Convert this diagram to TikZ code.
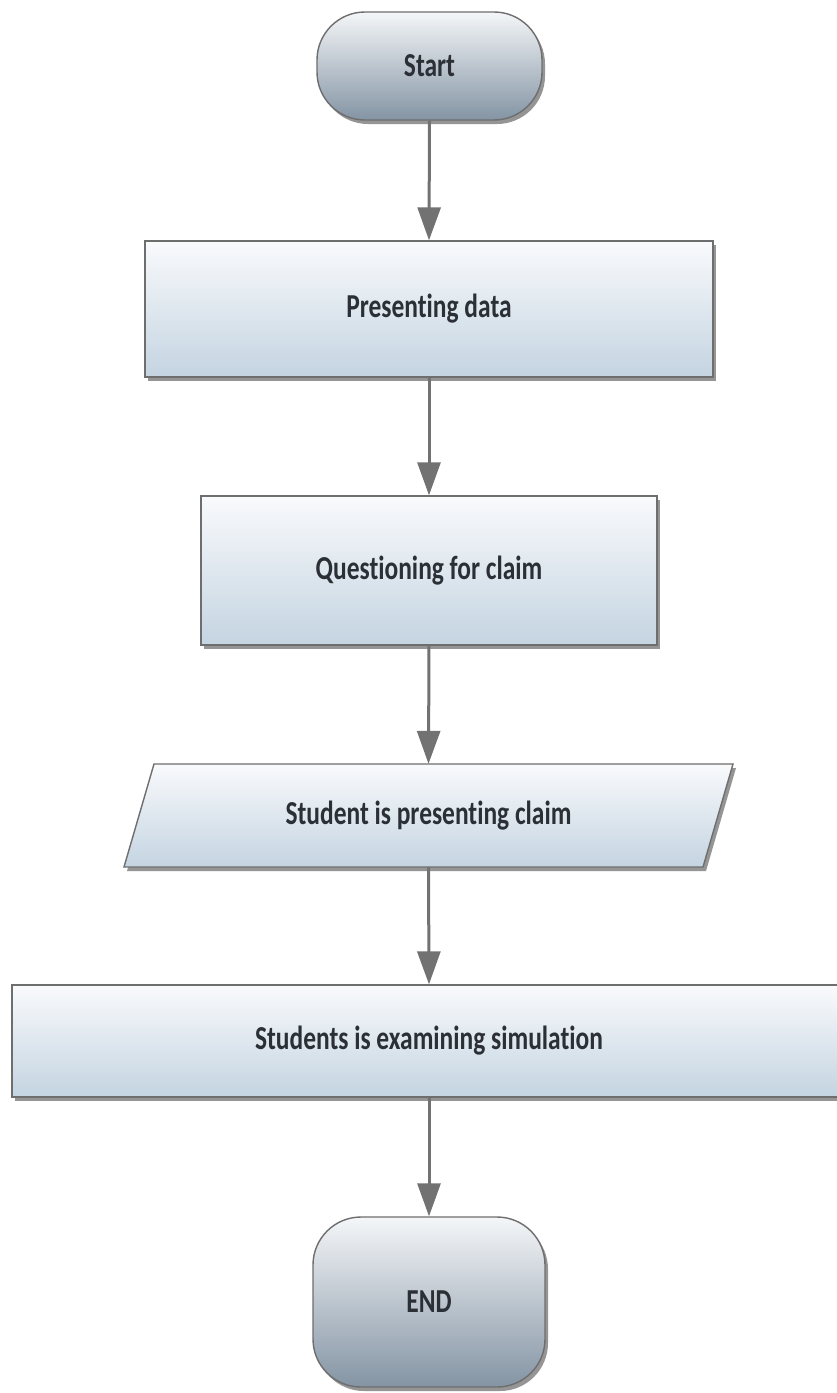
\documentclass[tikz,border=0pt]{standalone}
\usepackage{fontspec}
\newfontfamily\labfont{Carlito}[FakeStretch=0.76, Ligatures={NoCommon}]
\usetikzlibrary{shadows,arrows.meta}
\definecolor{edgegray}{HTML}{6E6E6E}
\definecolor{boxtop}{HTML}{F9FAFC}
\definecolor{boxbot}{HTML}{C4D4E1}
\definecolor{termtop}{HTML}{F4F6F8}
\definecolor{termbot}{HTML}{8494A4}
\definecolor{arrowgray}{HTML}{727272}
\definecolor{txt}{HTML}{2B3036}
\definecolor{shadowgray}{HTML}{8A8A8A}
\tikzset{
  labeltext/.style={font=\labfont\bfseries\fontsize{33.5}{38}\selectfont, text=txt, inner sep=0pt},
  base/.style={labeltext, draw=edgegray, line width=1.4pt,
    drop shadow={shadow xshift=3pt, shadow yshift=-4pt, fill=shadowgray, opacity=0.9}},
  procbox/.style={base, rectangle, top color=boxtop, bottom color=boxbot},
  termbox/.style={base, rectangle, rounded corners=48pt, top color=termtop, bottom color=termbot},
  flow/.style={draw=arrowgray, line width=3pt, -{Triangle[length=33pt,width=23pt,fill=arrowgray]}}
}
\begin{document}
\begin{tikzpicture}[x=1pt,y=1pt]
\useasboundingbox (0,0) rectangle (837,-1393);
\fill[white] (0,0) rectangle (837,-1393);

\node[termbox, minimum width=225pt, minimum height=108pt] (start) at (429.5,-66) {Start};
\node[procbox, minimum width=568pt, minimum height=136pt] (data) at (429,-309) {Presenting data};
\node[procbox, minimum width=456pt, minimum height=149pt] (question) at (429,-570.5) {Questioning for claim};

% parallelogram
\fill[shadowgray, opacity=0.9] (157,-768) -- (736,-768) -- (706,-871) -- (127,-871) -- cycle;
\shade[top color=boxtop, bottom color=boxbot, draw=edgegray, line width=1.4pt]
  (154,-764) -- (733,-764) -- (703,-867) -- (124,-867) -- cycle;
\node[labeltext, minimum width=400pt, minimum height=103pt] (claim) at (428.5,-815.5) {Student is presenting claim};

\node[procbox, minimum width=834pt, minimum height=112pt] (exam) at (429,-1041) {Students is examining simulation};
\node[termbox, minimum width=232pt, minimum height=170pt] (end) at (429,-1302) {END};

\draw[flow] (start.south) -- (data.north);
\draw[flow] (data.south) -- (question.north);
\draw[flow] (question.south) -- (claim.north);
\draw[flow] (claim.south) -- (exam.north);
\draw[flow] (exam.south) -- (end.north);
\end{tikzpicture}
\end{document}
